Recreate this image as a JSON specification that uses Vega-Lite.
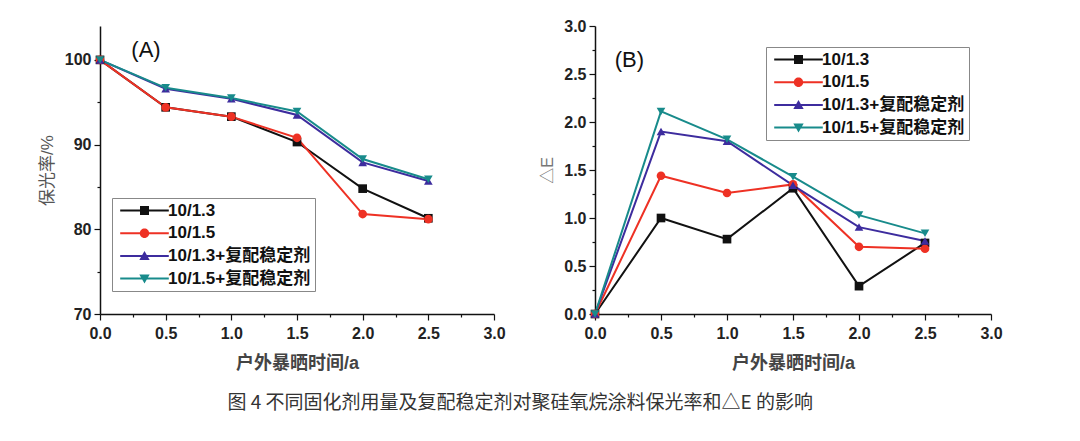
{
  "$schema": "https://vega.github.io/schema/vega-lite/v6.json",
  "padding": {"left": 38, "top": 18, "right": 10, "bottom": 5},
  "background": "white",
  "bounds": "flush",
  "spacing": 101,
  "title": {"text": "图 4  不同固化剂用量及复配稳定剂对聚硅氧烷涂料保光率和△E 的影响", "orient": "bottom", "anchor": "middle", "font": "Noto Sans CJK SC", "fontSize": 19, "fontWeight": "normal", "color": "#333", "offset": 22},
  "config": {
    "view": {"stroke": null},
    "axis": {"grid": false, "labelFlush": false, "domainColor": "#111", "domainWidth": 1.5, "tickColor": "#111", "tickWidth": 1.2, "labelFont": "Liberation Sans, Noto Sans CJK SC", "labelFontSize": 16, "labelFontWeight": "bold", "labelColor": "#222", "labelPadding": 3, "titleFont": "Liberation Sans, Noto Sans CJK SC"}
  },
  "resolve": {"scale": {"color": "independent", "shape": "independent"}, "legend": {"color": "independent", "shape": "independent"}},
  "datasets": {
    "A": [
      {"t": 0, "v": 100, "s": "10/1.3"}, {"t": 0.5, "v": 94.4, "s": "10/1.3"}, {"t": 1.0, "v": 93.3, "s": "10/1.3"}, {"t": 1.5, "v": 90.3, "s": "10/1.3"}, {"t": 2.0, "v": 84.8, "s": "10/1.3"}, {"t": 2.5, "v": 81.3, "s": "10/1.3"},
      {"t": 0, "v": 100, "s": "10/1.5"}, {"t": 0.5, "v": 94.4, "s": "10/1.5"}, {"t": 1.0, "v": 93.3, "s": "10/1.5"}, {"t": 1.5, "v": 90.8, "s": "10/1.5"}, {"t": 2.0, "v": 81.8, "s": "10/1.5"}, {"t": 2.5, "v": 81.2, "s": "10/1.5"},
      {"t": 0, "v": 100, "s": "10/1.3+复配稳定剂"}, {"t": 0.5, "v": 96.6, "s": "10/1.3+复配稳定剂"}, {"t": 1.0, "v": 95.4, "s": "10/1.3+复配稳定剂"}, {"t": 1.5, "v": 93.5, "s": "10/1.3+复配稳定剂"}, {"t": 2.0, "v": 87.9, "s": "10/1.3+复配稳定剂"}, {"t": 2.5, "v": 85.7, "s": "10/1.3+复配稳定剂"},
      {"t": 0, "v": 100, "s": "10/1.5+复配稳定剂"}, {"t": 0.5, "v": 96.7, "s": "10/1.5+复配稳定剂"}, {"t": 1.0, "v": 95.5, "s": "10/1.5+复配稳定剂"}, {"t": 1.5, "v": 93.9, "s": "10/1.5+复配稳定剂"}, {"t": 2.0, "v": 88.3, "s": "10/1.5+复配稳定剂"}, {"t": 2.5, "v": 85.9, "s": "10/1.5+复配稳定剂"}
    ],
    "B": [
      {"t": 0, "v": 0, "s": "10/1.3"}, {"t": 0.5, "v": 1.0, "s": "10/1.3"}, {"t": 1.0, "v": 0.78, "s": "10/1.3"}, {"t": 1.5, "v": 1.31, "s": "10/1.3"}, {"t": 2.0, "v": 0.29, "s": "10/1.3"}, {"t": 2.5, "v": 0.74, "s": "10/1.3"},
      {"t": 0, "v": 0, "s": "10/1.5"}, {"t": 0.5, "v": 1.44, "s": "10/1.5"}, {"t": 1.0, "v": 1.26, "s": "10/1.5"}, {"t": 1.5, "v": 1.35, "s": "10/1.5"}, {"t": 2.0, "v": 0.70, "s": "10/1.5"}, {"t": 2.5, "v": 0.68, "s": "10/1.5"},
      {"t": 0, "v": 0, "s": "10/1.3+复配稳定剂"}, {"t": 0.5, "v": 1.90, "s": "10/1.3+复配稳定剂"}, {"t": 1.0, "v": 1.80, "s": "10/1.3+复配稳定剂"}, {"t": 1.5, "v": 1.34, "s": "10/1.3+复配稳定剂"}, {"t": 2.0, "v": 0.905, "s": "10/1.3+复配稳定剂"}, {"t": 2.5, "v": 0.76, "s": "10/1.3+复配稳定剂"},
      {"t": 0, "v": 0, "s": "10/1.5+复配稳定剂"}, {"t": 0.5, "v": 2.11, "s": "10/1.5+复配稳定剂"}, {"t": 1.0, "v": 1.82, "s": "10/1.5+复配稳定剂"}, {"t": 1.5, "v": 1.43, "s": "10/1.5+复配稳定剂"}, {"t": 2.0, "v": 1.03, "s": "10/1.5+复配稳定剂"}, {"t": 2.5, "v": 0.84, "s": "10/1.5+复配稳定剂"}
    ]
  },
  "hconcat": [
    {
      "width": 394,
      "height": 288,
      "data": {"name": "A"},
      "resolve": {"scale": {"color": "independent", "shape": "independent"}},
      "encoding": {
        "x": {"field": "t", "type": "quantitative", "scale": {"domain": [0, 3], "nice": false, "zero": false},
          "axis": {"title": "户外暴晒时间/a", "titleFontSize": 18, "titleFontWeight": "bold", "titleColor": "#444", "titlePadding": 13, "labelPadding": 5,
            "values": [0, 0.25, 0.5, 0.75, 1, 1.25, 1.5, 1.75, 2, 2.25, 2.5, 2.75, 3],
            "labelExpr": "datum.value % 0.5 == 0 ? format(datum.value, '.1f') : ''",
            "tickSize": {"condition": {"test": "datum.value % 0.5 == 0", "value": 6}, "value": 3}}},
        "y": {"field": "v", "type": "quantitative", "scale": {"domain": [70, 104], "nice": false, "zero": false},
          "axis": {"title": "保光率/%", "titleFontSize": 17, "titleFontWeight": "normal", "titleColor": "#555", "titlePadding": 8,
            "values": [70, 75, 80, 85, 90, 95, 100],
            "labelExpr": "datum.value % 10 == 0 ? format(datum.value, 'd') : ''",
            "tickSize": {"condition": {"test": "datum.value % 10 == 0", "value": 6}, "value": 3}}}
      },
      "layer": [
        {
          "mark": {"type": "line", "strokeWidth": 2},
          "encoding": {
            "color": {"field": "s", "type": "nominal", "legend": null,
              "scale": {"domain": ["10/1.3", "10/1.5", "10/1.3+复配稳定剂", "10/1.5+复配稳定剂"], "range": ["#111111", "#ee3124", "#3d2c9e", "#188b8b"]}}
          }
        },
        {
          "mark": {"type": "point", "filled": true, "opacity": 1, "size": 75},
          "encoding": {
            "color": {"field": "s", "type": "nominal", "legend": null,
              "scale": {"domain": ["10/1.3", "10/1.5", "10/1.3+复配稳定剂", "10/1.5+复配稳定剂"], "range": ["#111111", "#ee3124", "#3d2c9e", "#188b8b"]}},
            "shape": {"field": "s", "type": "nominal", "legend": null,
              "scale": {"domain": ["10/1.3", "10/1.5", "10/1.3+复配稳定剂", "10/1.5+复配稳定剂"], "range": ["square", "circle", "triangle-up", "triangle-down"]}}
          }
        },
        {
          "transform": [{"filter": "datum.t > 10"}],
          "mark": {"type": "point", "filled": true, "size": 81},
          "encoding": {
            "color": {"field": "s", "type": "nominal",
              "scale": {"domain": ["10/1.3", "10/1.5", "10/1.3+复配稳定剂", "10/1.5+复配稳定剂"], "range": ["#111111", "#ee3124", "#3d2c9e", "#188b8b"]},
              "legend": {"title": null, "orient": "none", "legendX": 12, "legendY": 172, "symbolSize": 81, "symbolOffset": 20, "labelOffset": 15, "labelFont": "Liberation Sans, Noto Sans CJK SC", "labelFontSize": 17, "labelFontWeight": "bold", "labelColor": "#111", "strokeColor": "#888", "fillColor": "white", "padding": 4, "rowPadding": 4.7, "symbolStrokeWidth": 0, "symbolOpacity": 1}},
            "shape": {"field": "s", "type": "nominal",
              "scale": {"domain": ["10/1.3", "10/1.5", "10/1.3+复配稳定剂", "10/1.5+复配稳定剂"], "range": [
                "M-5.4,-0.22H5.4V0.22H-5.4Z M-1,-1H1V1H-1Z",
                "M-5.4,-0.22H5.4V0.22H-5.4Z M-1.05,0A1.05,1.05 0 1,1 1.05,0A1.05,1.05 0 1,1 -1.05,0Z",
                "M-5.4,-0.22H5.4V0.22H-5.4Z M0,-1.1L1.15,0.9L-1.15,0.9Z",
                "M-5.4,-0.22H5.4V0.22H-5.4Z M-1.15,-0.9L1.15,-0.9L0,1.1Z"]},
              "legend": {"title": null, "orient": "none", "legendX": 12, "legendY": 172, "symbolSize": 81, "symbolOffset": 20, "labelOffset": 15, "labelFont": "Liberation Sans, Noto Sans CJK SC", "labelFontSize": 17, "labelFontWeight": "bold", "labelColor": "#111", "strokeColor": "#888", "fillColor": "white", "padding": 4, "rowPadding": 4.7, "symbolStrokeWidth": 0, "symbolOpacity": 1}}
          }
        },
        {
          "transform": [{"filter": "datum.t == 0 && datum.s == '10/1.3'"}],
          "mark": {"type": "text", "font": "Liberation Sans", "fontSize": 22, "fill": "#111", "align": "center", "baseline": "middle"},
          "encoding": {"x": {"datum": 0.35, "type": "quantitative"}, "y": {"datum": 101.2, "type": "quantitative"}, "text": {"value": "(A)"}}
        }
      ]
    },
    {
      "width": 396,
      "height": 288,
      "data": {"name": "B"},
      "resolve": {"scale": {"color": "independent", "shape": "independent"}},
      "encoding": {
        "x": {"field": "t", "type": "quantitative", "scale": {"domain": [0, 3], "nice": false, "zero": false},
          "axis": {"title": "户外暴晒时间/a", "titleFontSize": 18, "titleFontWeight": "bold", "titleColor": "#444", "titlePadding": 13, "labelPadding": 5,
            "values": [0, 0.25, 0.5, 0.75, 1, 1.25, 1.5, 1.75, 2, 2.25, 2.5, 2.75, 3],
            "labelExpr": "datum.value % 0.5 == 0 ? format(datum.value, '.1f') : ''",
            "tickSize": {"condition": {"test": "datum.value % 0.5 == 0", "value": 6}, "value": 3}}},
        "y": {"field": "v", "type": "quantitative", "scale": {"domain": [0, 3], "nice": false, "zero": false},
          "axis": {"title": "△E", "titleFontSize": 16, "titleFontWeight": "normal", "titleColor": "#777", "titlePadding": 8,
            "values": [0, 0.25, 0.5, 0.75, 1, 1.25, 1.5, 1.75, 2, 2.25, 2.5, 2.75, 3],
            "labelExpr": "datum.value % 0.5 == 0 ? format(datum.value, '.1f') : ''",
            "tickSize": {"condition": {"test": "datum.value % 0.5 == 0", "value": 6}, "value": 3}}}
      },
      "layer": [
        {
          "mark": {"type": "line", "strokeWidth": 2},
          "encoding": {
            "color": {"field": "s", "type": "nominal", "legend": null,
              "scale": {"domain": ["10/1.3", "10/1.5", "10/1.3+复配稳定剂", "10/1.5+复配稳定剂"], "range": ["#111111", "#ee3124", "#3d2c9e", "#188b8b"]}}
          }
        },
        {
          "mark": {"type": "point", "filled": true, "opacity": 1, "size": 75},
          "encoding": {
            "color": {"field": "s", "type": "nominal", "legend": null,
              "scale": {"domain": ["10/1.3", "10/1.5", "10/1.3+复配稳定剂", "10/1.5+复配稳定剂"], "range": ["#111111", "#ee3124", "#3d2c9e", "#188b8b"]}},
            "shape": {"field": "s", "type": "nominal", "legend": null,
              "scale": {"domain": ["10/1.3", "10/1.5", "10/1.3+复配稳定剂", "10/1.5+复配稳定剂"], "range": ["square", "circle", "triangle-up", "triangle-down"]}}
          }
        },
        {
          "transform": [{"filter": "datum.t > 10"}],
          "mark": {"type": "point", "filled": true, "size": 81},
          "encoding": {
            "color": {"field": "s", "type": "nominal",
              "scale": {"domain": ["10/1.3", "10/1.5", "10/1.3+复配稳定剂", "10/1.5+复配稳定剂"], "range": ["#111111", "#ee3124", "#3d2c9e", "#188b8b"]},
              "legend": {"title": null, "orient": "none", "legendX": 171, "legendY": 21, "symbolSize": 81, "symbolOffset": 20, "labelOffset": 15, "labelFont": "Liberation Sans, Noto Sans CJK SC", "labelFontSize": 17, "labelFontWeight": "bold", "labelColor": "#111", "strokeColor": "#888", "fillColor": "white", "padding": 4, "rowPadding": 4.7, "symbolStrokeWidth": 0, "symbolOpacity": 1}},
            "shape": {"field": "s", "type": "nominal",
              "scale": {"domain": ["10/1.3", "10/1.5", "10/1.3+复配稳定剂", "10/1.5+复配稳定剂"], "range": [
                "M-5.4,-0.22H5.4V0.22H-5.4Z M-1,-1H1V1H-1Z",
                "M-5.4,-0.22H5.4V0.22H-5.4Z M-1.05,0A1.05,1.05 0 1,1 1.05,0A1.05,1.05 0 1,1 -1.05,0Z",
                "M-5.4,-0.22H5.4V0.22H-5.4Z M0,-1.1L1.15,0.9L-1.15,0.9Z",
                "M-5.4,-0.22H5.4V0.22H-5.4Z M-1.15,-0.9L1.15,-0.9L0,1.1Z"]},
              "legend": {"title": null, "orient": "none", "legendX": 171, "legendY": 21, "symbolSize": 81, "symbolOffset": 20, "labelOffset": 15, "labelFont": "Liberation Sans, Noto Sans CJK SC", "labelFontSize": 17, "labelFontWeight": "bold", "labelColor": "#111", "strokeColor": "#888", "fillColor": "white", "padding": 4, "rowPadding": 4.7, "symbolStrokeWidth": 0, "symbolOpacity": 1}}
          }
        },
        {
          "transform": [{"filter": "datum.t == 0 && datum.s == '10/1.3'"}],
          "mark": {"type": "text", "font": "Liberation Sans", "fontSize": 22, "fill": "#111", "align": "center", "baseline": "middle"},
          "encoding": {"x": {"datum": 0.26, "type": "quantitative"}, "y": {"datum": 2.65, "type": "quantitative"}, "text": {"value": "(B)"}}
        }
      ]
    }
  ]
}
